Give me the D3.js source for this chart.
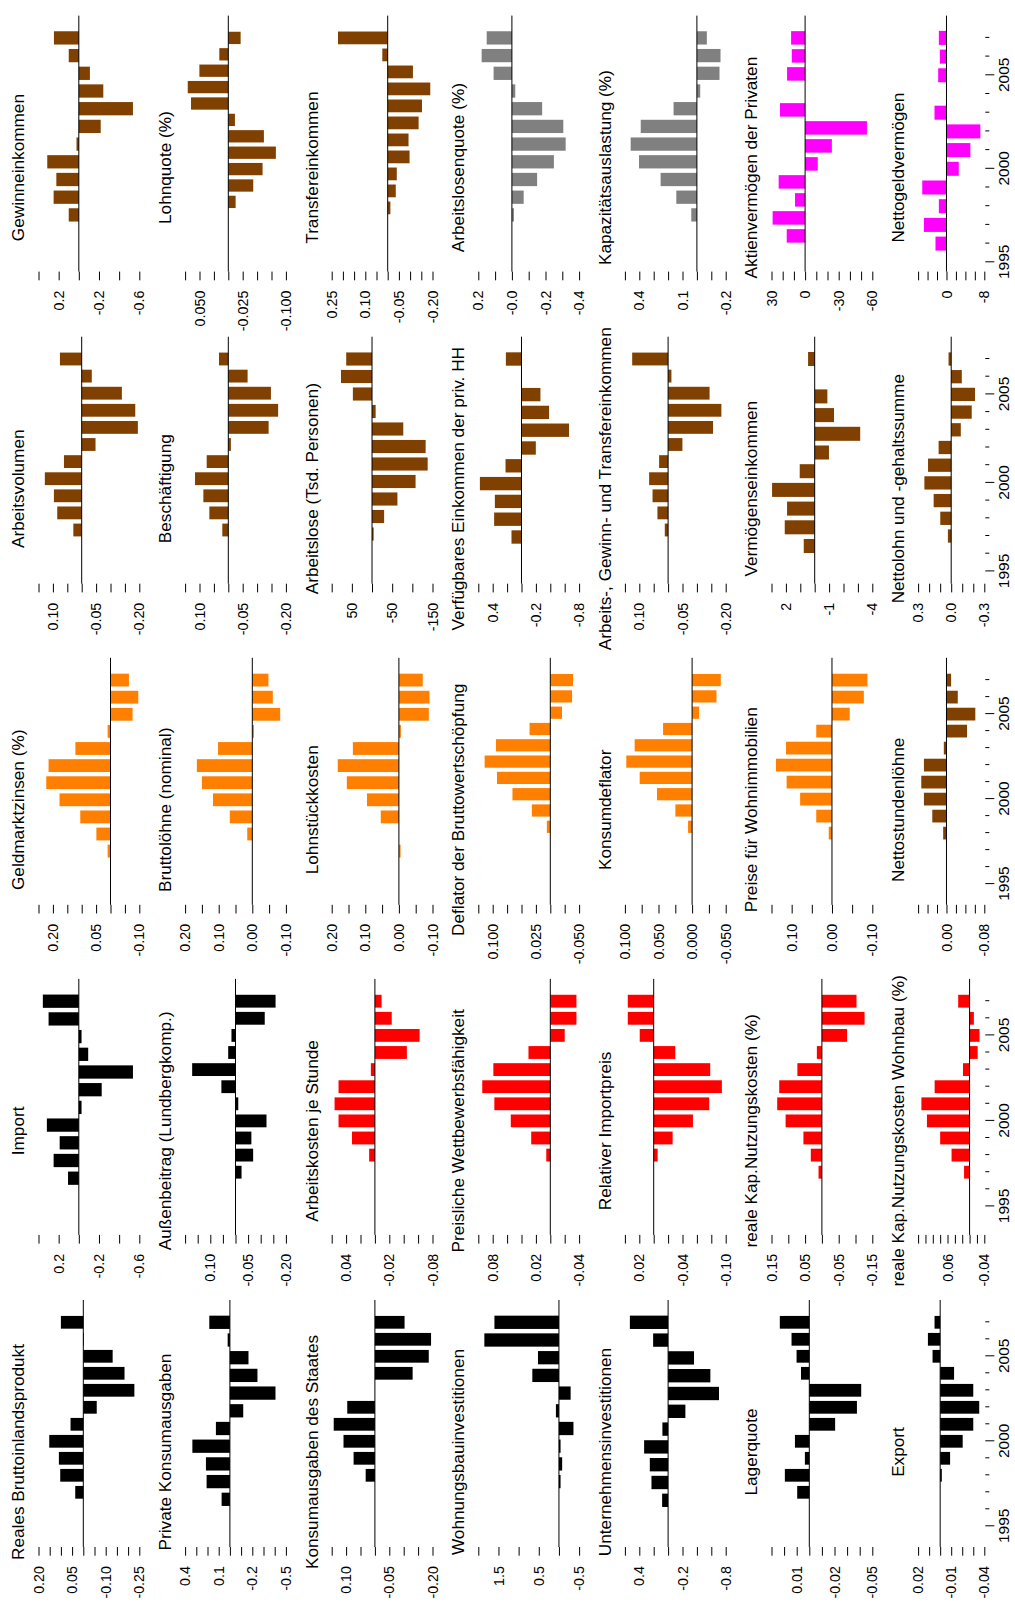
<!DOCTYPE html>
<html>
<head>
<meta charset="utf-8">
<script src="https://cdn.jsdelivr.net/npm/d3@7"></script>
<style>
  body { margin: 0; background: #fff; }
  svg { display: block; font-family: "Liberation Sans", Arial, sans-serif; }
</style>
</head>
<body>
<div id="chart"></div>
<script>
// years of the bars, every series below runs 1996..2007 (null = no bar)
var years = [1996, 1997, 1998, 1999, 2000, 2001, 2002, 2003, 2004, 2005, 2006, 2007];
var axisYears = [1995, 1996, 1997, 1998, 1999, 2000, 2001, 2002, 2003, 2004, 2005, 2006, 2007];

// column 1
var realesBip      = [null, 0.036, 0.103, 0.109, 0.152, 0.057, -0.060, -0.228, -0.184, -0.131, -0.003, 0.100];
var privKonsum     = [null, 0.074, 0.208, 0.214, 0.335, 0.125, -0.119, -0.407, -0.246, -0.166, 0.020, 0.184];
var staatKonsum    = [null, 0, 0.032, 0.074, 0.109, 0.143, 0.096, 0, -0.131, -0.187, -0.195, -0.103];
var wohnbauInv     = [null, 0, -0.04, -0.08, -0.04, -0.36, 0.075, -0.29, 0.66, 0.52, 1.85, 1.60];
var unternInv      = [null, 0.083, 0.231, 0.254, 0.333, 0.079, -0.240, -0.707, -0.587, -0.360, 0.208, 0.531];
var lagerquote     = [null, 0.0096, 0.0194, 0.0035, 0.0114, -0.0205, -0.0378, -0.0412, 0.0066, 0.0101, 0.0141, 0.0234];
var exportR        = [null, 0, -0.0015, -0.009, -0.0204, -0.030, -0.0354, -0.030, -0.0126, 0.0069, 0.0111, 0.0051];
// column 2
var importR        = [null, 0.107, 0.250, 0.190, 0.317, -0.027, -0.227, -0.537, -0.093, -0.027, 0.300, 0.357];
var aussenbeitrag  = [null, -0.024, -0.070, -0.063, -0.123, -0.011, 0.056, 0.172, 0.029, 0.016, -0.116, -0.159];
var arbeitskosten  = [null, 0, 0.008, 0.0318, 0.0505, 0.056, 0.0505, 0.0056, -0.0444, -0.0621, -0.0234, -0.0093];
var wettbewerb     = [null, 0, 0.0056, 0.0265, 0.0549, 0.0777, 0.0945, 0.0791, 0.0303, -0.020, -0.0363, -0.0363];
var importpreis    = [null, 0, -0.0055, -0.0263, -0.0545, -0.0771, -0.0947, -0.0785, -0.030, 0.0194, 0.036, 0.036];
var kapKosten      = [null, 0.010, 0.033, 0.055, 0.108, 0.133, 0.127, 0.073, 0.015, -0.075, -0.127, -0.103];
var kapKostenWohn  = [null, 0.015, 0.049, 0.080, 0.116, 0.131, 0.095, 0.018, -0.022, -0.027, -0.0116, 0.031];
// column 3
var geldmarkt      = [null, 0.010, 0.049, 0.105, 0.177, 0.223, 0.215, 0.122, 0.010, -0.0767, -0.0965, -0.064];
var bruttoloehne   = [null, 0, 0.015, 0.067, 0.117, 0.150, 0.165, 0.102, -0.005, -0.083, -0.061, -0.048];
var lohnstueck     = [null, -0.005, 0, 0.054, 0.095, 0.155, 0.182, 0.137, -0.006, -0.089, -0.091, -0.071];
var deflatorBws    = [null, 0, 0.006, 0.032, 0.0657, 0.0925, 0.114, 0.0943, 0.036, -0.0203, -0.0378, -0.0395];
var konsumdeflator = [null, 0, 0.006, 0.0249, 0.0522, 0.078, 0.0979, 0.0855, 0.0432, -0.0104, -0.0363, -0.0427];
var wohnpreise     = [null, 0, 0.008, 0.039, 0.079, 0.1125, 0.139, 0.114, 0.039, -0.044, -0.079, -0.088];
var nettostunden   = [null, 0, 0.007, 0.030, 0.0477, 0.0533, 0.0477, 0.0056, -0.0435, -0.061, -0.0239, -0.0098];
// column 4
var arbeitsvolumen = [null, 0.029, 0.0849, 0.0965, 0.128, 0.0616, -0.048, -0.195, -0.186, -0.1395, -0.035, 0.0756];
var beschaeftigung = [null, 0.0208, 0.0658, 0.0866, 0.1155, 0.075, -0.009, -0.140, -0.173, -0.148, -0.067, 0.0323];
var arbeitslose    = [null, -4, -30, -63, -108, -138, -133, -77.5, -9, 47.5, 77, 64];
var verfEinkommen  = [null, 0.139, 0.38, 0.37, 0.578, 0.222, -0.199, -0.66, -0.383, -0.263, null, 0.217];
var agtEinkommen   = [null, 0.0115, 0.037, 0.054, 0.0658, 0.0312, -0.0497, -0.156, -0.185, -0.144, -0.0115, 0.1247];
var vermEinkommen  = [null, 0.76, 2.08, 1.92, 2.96, 1.04, -0.99, -3.16, -1.34, -0.88, null, 0.46];
var nettolohn      = [null, 0.03, 0.099, 0.159, 0.243, 0.21, 0.114, -0.087, -0.186, -0.216, -0.096, 0.024];
// column 5
var gewinn         = [null, 0.10, 0.25, 0.223, 0.313, 0.023, -0.217, -0.537, -0.243, -0.11, 0.10, 0.247];
var lohnquote      = [null, -0.0127, -0.0433, -0.0595, -0.0826, -0.0618, -0.0115, 0.0647, 0.0704, 0.0502, 0.0156, -0.0214];
var transfer       = [null, -0.012, -0.036, -0.0405, -0.0976, -0.093, -0.138, -0.153, -0.19, -0.1126, 0.024, 0.222];
var alQuote        = [null, -0.012, -0.07, -0.15, -0.25, -0.32, -0.306, -0.18, -0.02, 0.109, 0.180, 0.150];
var kapazitaet     = [null, 0.039, 0.143, 0.252, 0.402, 0.46, 0.39, 0.162, -0.023, -0.157, -0.164, -0.069];
var aktien         = [16.4, 29.0, 9.0, 23.6, -11.3, -23.9, -55.2, 22.4, null, 16.1, 11.9, 12.5];
var nettogeld      = [2.32, 4.77, 1.61, 5.12, -2.60, -5.05, -7.16, 2.53, null, 1.75, 1.40, 1.61];

// y tick ranges: [top, bottom, step]
var black = "#000000", red = "#ff0000", orange = "#ff8000", brown = "#804000", grey = "#808080", magenta = "#ff00ff";

var panels = [
  {title: "Reales Bruttoinlandsprodukt", values: realesBip, color: black, ticks: [0.20, -0.25, 0.05], pitch: 17.0},
  {title: "Private Konsumausgaben", values: privKonsum, color: black, ticks: [0.4, -0.5, 0.1], pitch: 17.7},
  {title: "Konsumausgaben des Staates", values: staatKonsum, color: black, ticks: [0.15, -0.20, 0.05], pitch: 17.0},
  {title: "Wohnungsbauinvestitionen", values: wohnbauInv, color: black, ticks: [2.0, -0.5, 0.5], pitch: 17.7},
  {title: "Unternehmensinvestitionen", values: unternInv, color: black, ticks: [0.6, -0.8, 0.2], pitch: 17.8},
  {title: "Lagerquote", values: lagerquote, color: black, ticks: [0.03, -0.05, 0.01], pitch: 17.0},
  {title: "Export", values: exportR, color: black, ticks: [0.02, -0.04, 0.01], pitch: 17.0},

  {title: "Import", values: importR, color: black, ticks: [0.4, -0.6, 0.2], pitch: 17.7},
  {title: "Außenbeitrag (Lundbergkomp.)", values: aussenbeitrag, color: black, ticks: [0.20, -0.20, 0.05], pitch: 17.1},
  {title: "Arbeitskosten je Stunde", values: arbeitskosten, color: red, ticks: [0.06, -0.08, 0.02], pitch: 17.1},
  {title: "Preisliche Wettbewerbsfähigkeit", values: wettbewerb, color: red, ticks: [0.10, -0.04, 0.02], pitch: 17.1},
  {title: "Relativer Importpreis", values: importpreis, color: red, ticks: [0.04, -0.10, 0.02], pitch: 17.1},
  {title: "reale Kap.Nutzungskosten (%)", values: kapKosten, color: red, ticks: [0.15, -0.15, 0.05], pitch: 17.1},
  {title: "reale Kap.Nutzungskosten Wohnbau (%)", values: kapKostenWohn, color: red, ticks: [0.14, -0.04, 0.02], pitch: 17.1},

  {title: "Geldmarktzinsen (%)", values: geldmarkt, color: orange, ticks: [0.25, -0.10, 0.05], pitch: 17.1},
  {title: "Bruttolöhne (nominal)", values: bruttoloehne, color: orange, ticks: [0.20, -0.10, 0.05], pitch: 17.1},
  {title: "Lohnstückkosten", values: lohnstueck, color: orange, ticks: [0.20, -0.10, 0.05], pitch: 17.1},
  {title: "Deflator der Bruttowertschöpfung", values: deflatorBws, color: orange, ticks: [0.125, -0.05, 0.025], pitch: 16.3},
  {title: "Konsumdeflator", values: konsumdeflator, color: orange, ticks: [0.10, -0.05, 0.025], pitch: 16.3},
  {title: "Preise für Wohnimmobilien", values: wohnpreise, color: orange, ticks: [0.15, -0.10, 0.05], pitch: 17.0},
  {title: "Nettostundenlöhne", values: nettostunden, color: brown, ticks: [0.06, -0.08, 0.02], pitch: 17.0},

  {title: "Arbeitsvolumen", values: arbeitsvolumen, color: brown, ticks: [0.15, -0.20, 0.05], pitch: 17.1},
  {title: "Beschäftigung", values: beschaeftigung, color: brown, ticks: [0.15, -0.20, 0.05], pitch: 17.1},
  {title: "Arbeitslose (Tsd. Personen)", values: arbeitslose, color: brown, ticks: [100, -150, 50], pitch: 17.5},
  {title: "Verfügbares Einkommen der priv. HH", values: verfEinkommen, color: brown, ticks: [0.6, -0.8, 0.2], pitch: 17.8},
  {title: "Arbeits-, Gewinn- und Transfereinkommen", values: agtEinkommen, color: brown, ticks: [0.15, -0.20, 0.05], pitch: 17.1},
  {title: "Vermögenseinkommen", values: vermEinkommen, color: brown, ticks: [3, -4, 1], pitch: 18.7},
  {title: "Nettolohn und -gehaltssumme", values: nettolohn, color: brown, ticks: [0.3, -0.3, 0.1], pitch: 17.7},

  {title: "Gewinneinkommen", values: gewinn, color: brown, ticks: [0.4, -0.6, 0.2], pitch: 17.7},
  {title: "Lohnquote (%)", values: lohnquote, color: brown, ticks: [0.075, -0.10, 0.025], pitch: 16.4},
  {title: "Transfereinkommen", values: transfer, color: brown, ticks: [0.25, -0.20, 0.05], pitch: 17.0},
  {title: "Arbeitslosenquote (%)", values: alQuote, color: grey, ticks: [0.2, -0.4, 0.1], pitch: 17.7, zeroText: "-0.0"},
  {title: "Kapazitätsauslastung (%)", values: kapazitaet, color: grey, ticks: [0.5, -0.2, 0.1], pitch: 17.7},
  {title: "Aktienvermögen der Privaten", values: aktien, color: magenta, ticks: [30, -60, 10], pitch: 18.0},
  {title: "Nettogeldvermögen", values: nettogeld, color: magenta, ticks: [6, -8, 2], pitch: 18.7}
];

// the page is drawn in landscape and turned a quarter to the left
var svgWidth = 1015;
var svgHeight = 1612;
var colW = 321.1, rowH = 146.6;
var plotLeft = [65, 56, 65, 65, 56];
var plotRight = 312, x2007 = 289.7;
var plotTop = 38.5, plotBottom = 139.3, plotBottomLast = 104.7;
var tickLen = 8.7, minLabelGap = 31;

var svg = d3.select("#chart")
  .append("svg")
  .attr("width", svgWidth)
  .attr("height", svgHeight);

svg.append("rect").attr("width", svgWidth).attr("height", svgHeight).attr("fill", "#fff");

var page = svg.append("g")
  .attr("transform", `translate(0, ${svgHeight}) rotate(-90)`);

function decimals(step) {
  var s = String(step);
  return s.indexOf(".") < 0 ? 0 : s.length - s.indexOf(".") - 1;
}

panels.forEach(function(p, i) {
  var col = Math.floor(i / 7);
  var row = i % 7;
  var left = plotLeft[col];
  var bottom = row === 6 ? plotBottomLast : plotBottom;

  var g = page.append("g")
    .attr("transform", `translate(${col * colW}, ${row * rowH})`);

  var x = d3.scaleLinear()
    .domain([2007 - (x2007 - left) / p.pitch, 2007 + (plotRight - x2007) / p.pitch])
    .range([left, plotRight]);

  var y = d3.scaleLinear()
    .domain([p.ticks[1], p.ticks[0]])
    .range([bottom, plotTop]);

  // bars
  var data = years.map(function(yr, k) { return {year: yr, value: p.values[k]}; })
    .filter(function(d) { return d.value !== null && d.value !== 0; });

  g.selectAll("rect.bar")
    .data(data)
    .enter()
    .append("rect")
    .attr("class", "bar")
    .attr("x", d => x(d.year - 0.375))
    .attr("width", d => x(d.year + 0.375) - x(d.year - 0.375))
    .attr("y", d => y(Math.max(d.value, 0)))
    .attr("height", d => Math.abs(y(d.value) - y(0)))
    .attr("fill", p.color);

  // zero line
  g.append("line")
    .attr("x1", left)
    .attr("x2", plotRight)
    .attr("y1", y(0))
    .attr("y2", y(0))
    .attr("stroke", "#000")
    .attr("stroke-width", 1);

  // y ticks, labels skipped where they would collide (bottom up)
  var step = p.ticks[2];
  var n = Math.round((p.ticks[0] - p.ticks[1]) / step);
  var tickVals = d3.range(n + 1).map(k => +(p.ticks[1] + k * step).toFixed(10));
  var shown = {};
  var lastPos = null;
  tickVals.forEach(function(v) {
    if (lastPos === null || Math.abs(lastPos - y(v)) >= minLabelGap) {
      shown[v] = true;
      lastPos = y(v);
    }
  });
  var dec = decimals(step);

  var leftAxis = d3.axisLeft(y)
    .tickValues(tickVals)
    .tickSize(tickLen)
    .tickPadding(10.3)
    .tickFormat(function(v) {
      if (!shown[v]) return "";
      if (v === 0 && p.zeroText) return p.zeroText;
      return v.toFixed(dec);
    });

  var ya = g.append("g")
    .attr("transform", `translate(${left}, 0)`)
    .call(leftAxis);
  ya.select(".domain").remove();
  ya.selectAll("text")
    .attr("font-size", "14.3px")
    .attr("font-family", "Liberation Sans, Arial, sans-serif")
    .attr("fill", "#000");
  ya.selectAll("line").attr("stroke", "#000");

  // years only under the last row
  if (row === 6) {
    var bottomAxis = d3.axisBottom(x)
      .tickValues(axisYears)
      .tickSize(4)
      .tickPadding(8.7)
      .tickFormat(d => d % 5 === 0 ? d : "");
    var xa = g.append("g")
      .attr("transform", `translate(0, ${bottom + 1})`)
      .call(bottomAxis);
    xa.select(".domain").remove();
    xa.selectAll(".tick line")
      .attr("stroke", "#000")
      .attr("y2", d => d % 5 === 0 ? 9 : 4);
    xa.selectAll("text")
      .attr("font-size", "15.5px")
      .attr("font-family", "Liberation Sans, Arial, sans-serif")
      .attr("fill", "#000");
  }

  // panel title
  g.append("text")
    .attr("x", 160)
    .attr("y", 24.4)
    .attr("text-anchor", "middle")
    .attr("font-size", "17.2px")
    .attr("fill", "#000")
    .text(p.title);
});
</script>
</body>
</html>
